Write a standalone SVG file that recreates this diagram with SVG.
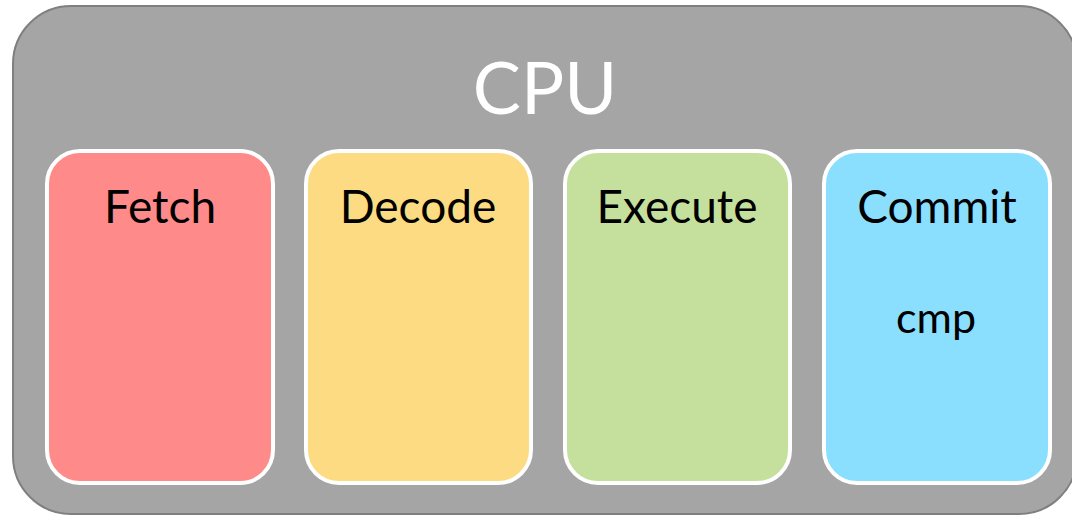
<svg xmlns="http://www.w3.org/2000/svg" width="1072" height="516" viewBox="0 0 1072 516">
<style>
.stage{stroke:#ffffff;stroke-width:4}
.lbl{font-family:Lato,"Liberation Sans",sans-serif;font-size:46px;fill:#000;text-anchor:middle}
</style>
<rect width="1072" height="516" fill="#ffffff"/>
<g id="cpu">
<rect x="13" y="6" width="1064" height="508" rx="58" ry="58" fill="#a5a5a5" stroke="#7f7f7f" stroke-width="2"/>
<text x="545" y="114" font-family="Lato,'Liberation Sans',sans-serif" font-size="72" fill="#ffffff" text-anchor="middle">CPU</text>
</g>
<g id="fetch">
<rect class="stage" x="47" y="151" width="226" height="332" rx="33" fill="#ff8a8a"/>
<text class="lbl" x="160" y="223">Fetch</text>
</g>
<g id="decode">
<rect class="stage" x="306" y="151" width="225" height="332" rx="33" fill="#fddb82"/>
<text class="lbl" x="418" y="223">Decode</text>
</g>
<g id="execute">
<rect class="stage" x="565" y="151" width="225" height="332" rx="33" fill="#c4e09c"/>
<text class="lbl" x="677" y="223">Execute</text>
</g>
<g id="commit">
<rect class="stage" x="824" y="151" width="226" height="332" rx="33" fill="#8adfff"/>
<text class="lbl" x="937" y="223">Commit</text>
<text class="lbl" x="936" y="333" style="font-size:43px">cmp</text>
</g>
<g id="connectors"/>
</svg>
